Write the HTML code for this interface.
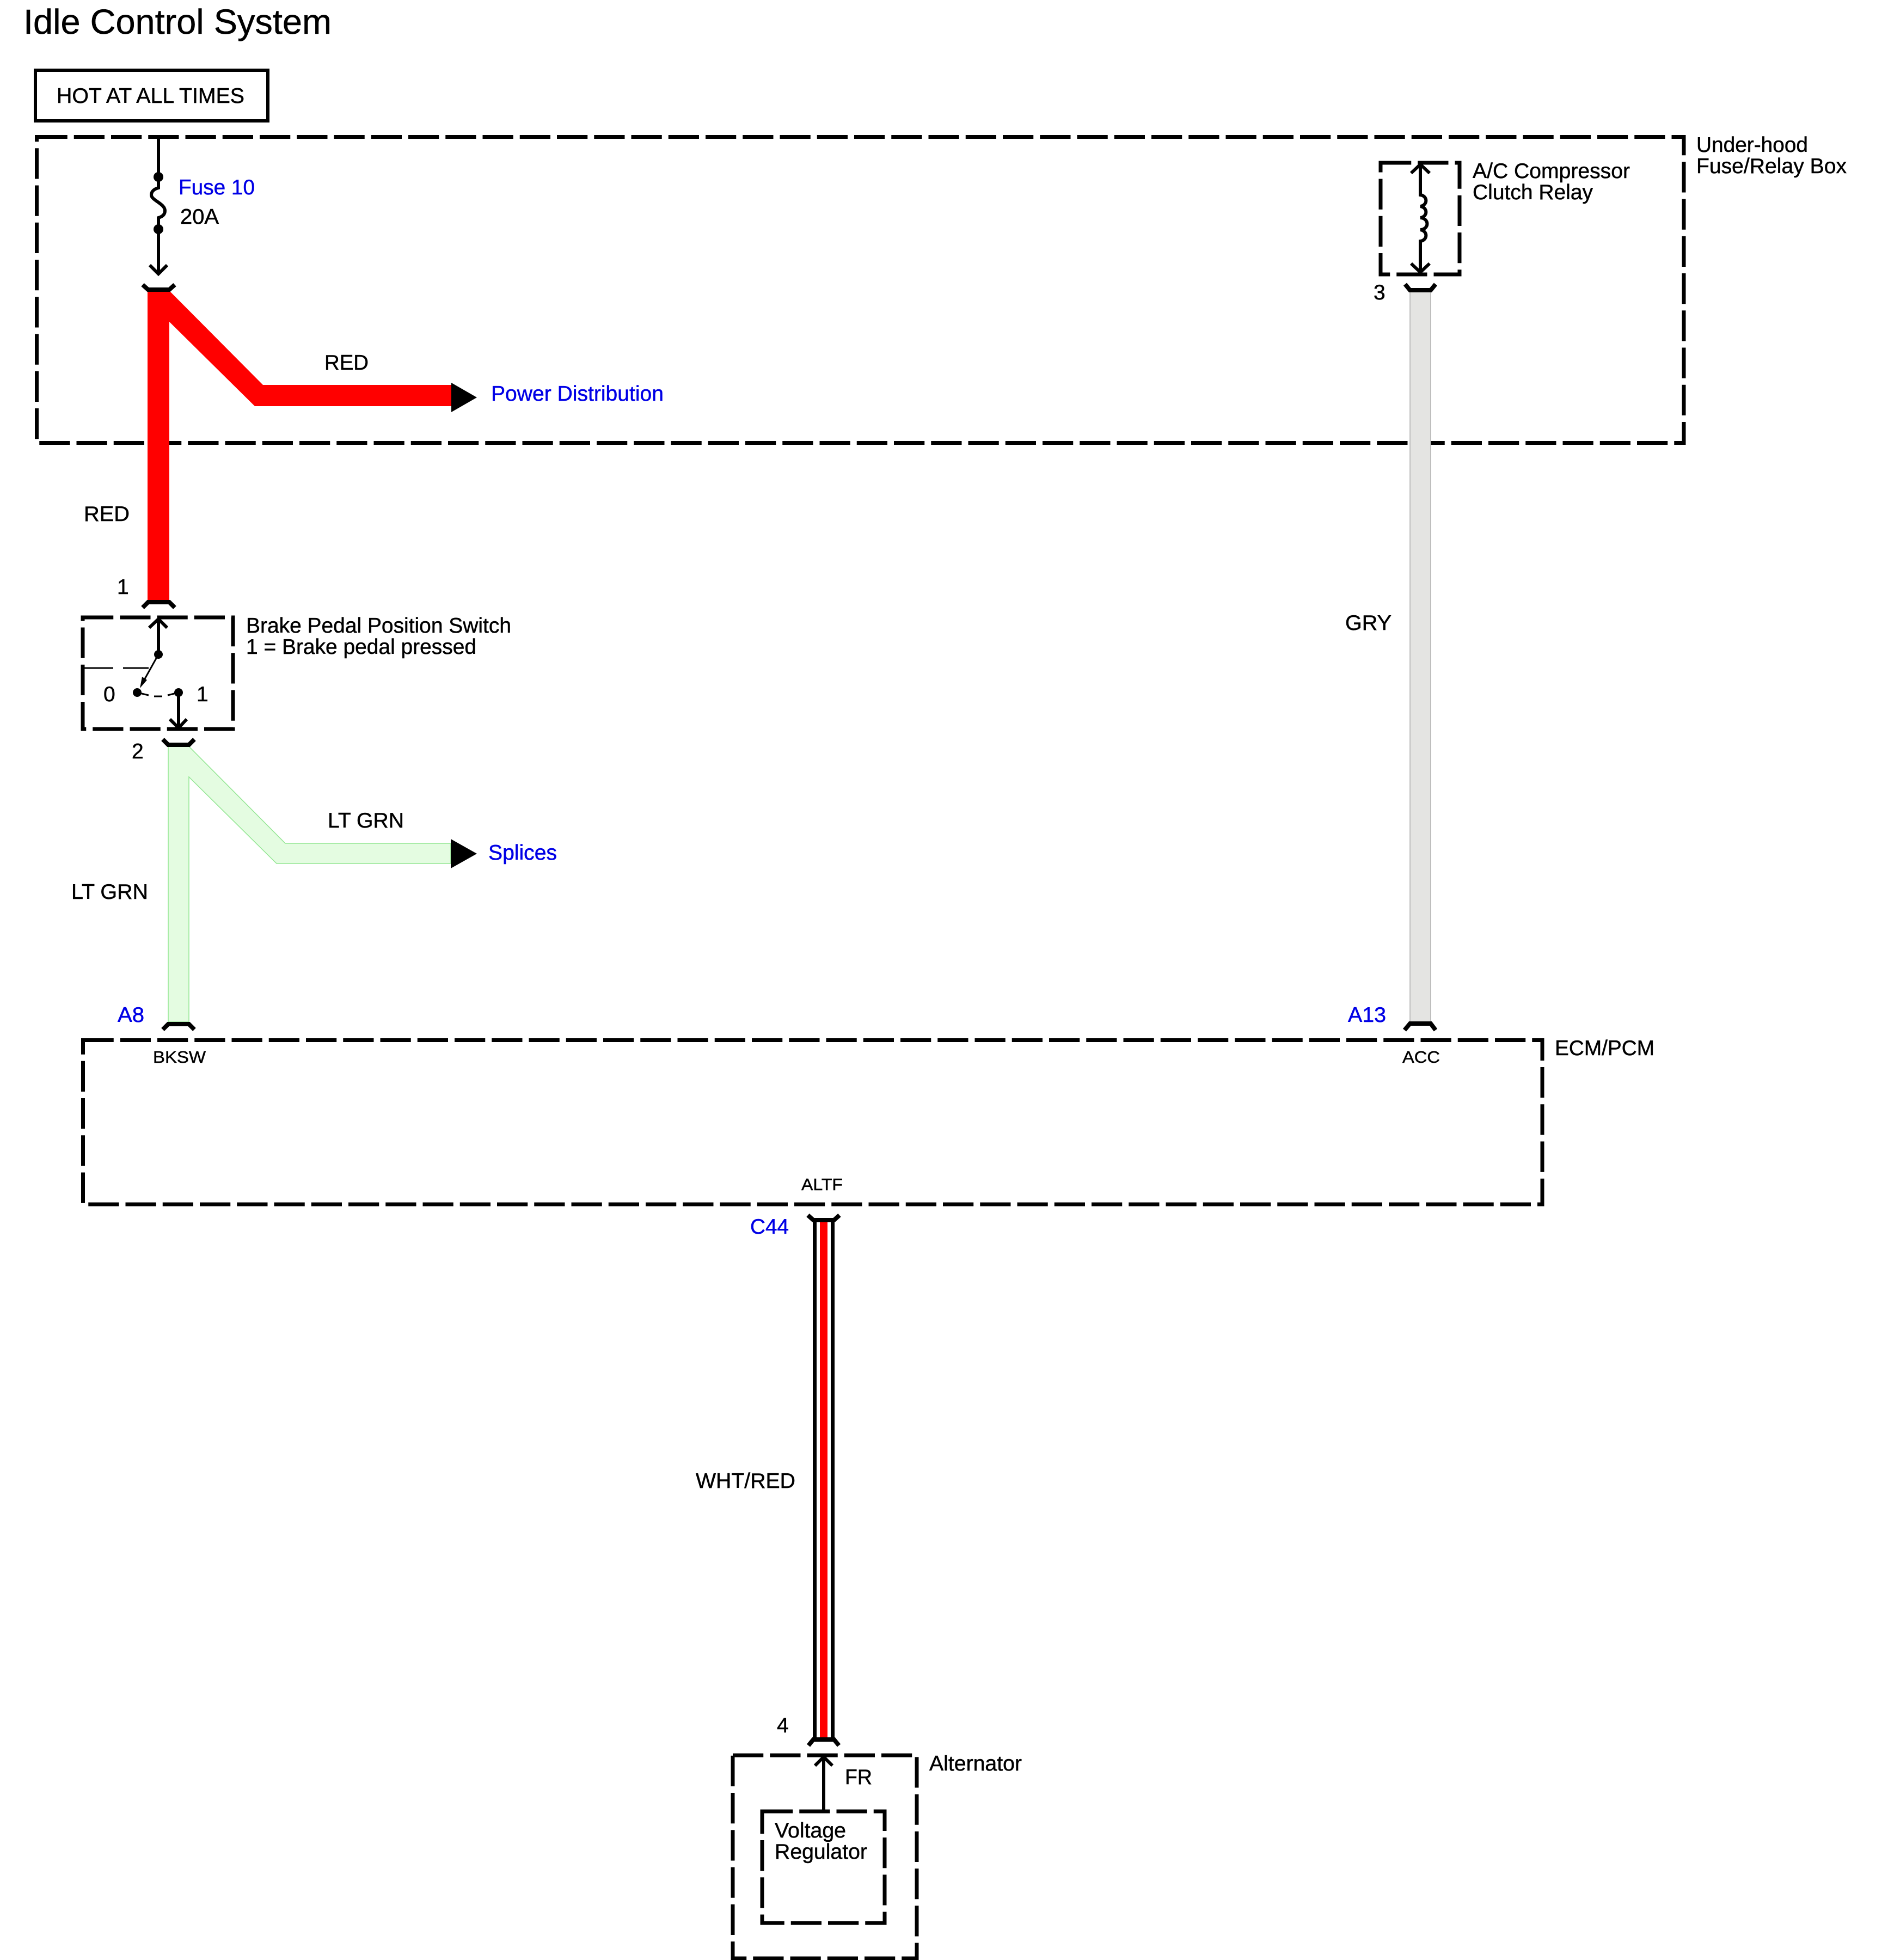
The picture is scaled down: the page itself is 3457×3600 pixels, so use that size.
<!DOCTYPE html>
<html><head><meta charset="utf-8"><title>Idle Control System</title>
<style>
html,body{margin:0;padding:0;background:#fff}
svg{display:block}
text{font-family:"Liberation Sans",Arial,sans-serif;font-size:39px;fill:#000;stroke:#000;stroke-width:.5}
.b{fill:#0000e6;stroke:#0000e6}
.s{font-size:31px}
.box{fill:none;stroke:#000;stroke-width:7;stroke-dasharray:56.25 12}
.l{fill:none;stroke:#000;stroke-width:6}
.c{fill:none;stroke:#000;stroke-width:8}
.t{fill:none;stroke:#000;stroke-width:3}
.g{fill:#e4fce1;stroke:#93e693;stroke-width:1.5}
</style></head>
<body>
<svg xmlns="http://www.w3.org/2000/svg" width="3457" height="3600" viewBox="0 0 3457 3600">
<rect width="3457" height="3600" fill="#fff"/>

<text x="43" y="62" style="font-size:64px" textLength="566" lengthAdjust="spacingAndGlyphs">Idle Control System</text>

<rect x="65" y="129" width="427" height="93" fill="none" stroke="#000" stroke-width="6"/>
<text x="104" y="189" textLength="345" lengthAdjust="spacingAndGlyphs">HOT AT ALL TIMES</text>

<!-- dashed boxes -->
<rect class="box" x="67.5" y="251.5" width="3025.5" height="562"/>
<rect class="box" x="2536" y="299" width="145" height="205"/>
<rect class="box" x="152" y="1134" width="276" height="205"/>
<rect class="box" x="152.5" y="1910.5" width="2680.5" height="301.5"/>
<rect class="box" x="1346" y="3224" width="338" height="373"/>
<rect class="box" x="1400" y="3327" width="225" height="205"/>

<!-- fuse -->
<path class="l" d="M291 252V345C284 347 278 351 278 358C278 368 303 374 303 387C303 394 298 398 291 400V503"/>
<circle cx="291" cy="325" r="9"/><circle cx="291" cy="421" r="9"/>
<path class="l" d="M275 487L291 503L307 487"/>

<!-- red wire -->
<path fill="#ff0000" d="M271 535H312L483 707H829V746H468L311 591V1103H271Z"/>
<path d="M829 703L876 730L829 757Z"/>
<path class="c" d="M262 523L272 532H311L321 523"/>
<path class="c" d="M262 1116L272 1106H311L321 1116"/>

<!-- switch -->
<path class="l" d="M291 1202V1137M274 1153L291 1137L307 1153"/>
<circle cx="291" cy="1202" r="8"/><circle cx="252" cy="1272" r="8"/><circle cx="328" cy="1272" r="8"/>
<path class="t" d="M291 1202L262 1254"/>
<path d="M257 1264L261 1243L270 1249Z"/>
<path class="t" d="M155 1227H208M226 1227H273"/>
<path class="t" d="M252 1272L273 1277M283 1279H298M308 1277L328 1272"/>
<path class="l" d="M328 1272V1337M312 1321L328 1337L343 1321"/>

<!-- green wire -->
<path class="g" d="M309 1371H347L524 1549H828V1586H508L347 1427V1877H309Z"/>
<path d="M828 1541L876 1568L828 1595Z"/>
<path class="c" d="M299 1358L309 1368H347L357 1358"/>
<path class="c" d="M299 1891L309 1881H347L357 1891"/>

<!-- gray wire -->
<rect x="2590" y="536" width="38" height="1341" fill="#e4e4e2" stroke="#b0b0b0" stroke-width="1.5"/>
<path class="c" d="M2581 522L2590 533H2628L2637 522"/>
<path class="c" d="M2580 1892L2590 1880H2628L2637 1892"/>

<!-- relay coil -->
<path class="l" d="M2609 302V358A12 10.6 0 0 1 2609 379A12 10.6 0 0 1 2609 400A12 10.6 0 0 1 2609 422A12 10.6 0 0 1 2609 443V500"/>
<path class="l" d="M2592 318L2609 302L2626 318M2592 484L2609 500L2626 484"/>

<!-- white/red wire -->
<rect x="1493" y="2241" width="7" height="954"/>
<rect x="1526" y="2241" width="7" height="954"/>
<rect x="1506" y="2245" width="14" height="947" fill="#ff0000"/>
<path class="c" d="M1484 2232L1494 2241H1532L1542 2232"/>
<path class="c" d="M1485 3206L1494 3195H1532L1541 3206"/>

<!-- alternator arrow -->
<path class="l" d="M1513 3327V3228M1497 3243L1513 3227L1529 3243"/>

<!-- labels -->
<text class="b" x="328" y="357" textLength="140" lengthAdjust="spacingAndGlyphs">Fuse 10</text>
<text x="331" y="411" textLength="71" lengthAdjust="spacingAndGlyphs">20A</text>
<text x="596" y="679" textLength="81" lengthAdjust="spacingAndGlyphs">RED</text>
<text class="b" x="902" y="736" textLength="317" lengthAdjust="spacingAndGlyphs">Power Distribution</text>
<text x="154" y="957" textLength="84" lengthAdjust="spacingAndGlyphs">RED</text>
<text x="215" y="1091">1</text>
<text x="452" y="1162" textLength="487" lengthAdjust="spacingAndGlyphs">Brake Pedal Position Switch</text>
<text x="452" y="1201" textLength="423" lengthAdjust="spacingAndGlyphs">1 = Brake pedal pressed</text>
<text x="190" y="1288">0</text>
<text x="361" y="1288">1</text>
<text x="242" y="1393">2</text>
<text x="602" y="1520" textLength="140" lengthAdjust="spacingAndGlyphs">LT GRN</text>
<text class="b" x="897" y="1579" textLength="126" lengthAdjust="spacingAndGlyphs">Splices</text>
<text x="131" y="1651" textLength="141" lengthAdjust="spacingAndGlyphs">LT GRN</text>
<text class="b" x="216" y="1877" textLength="49" lengthAdjust="spacingAndGlyphs">A8</text>
<text class="s" x="281" y="1952" textLength="97" lengthAdjust="spacingAndGlyphs">BKSW</text>
<text x="3116" y="279" textLength="205" lengthAdjust="spacingAndGlyphs">Under-hood</text>
<text x="3116" y="318" textLength="276" lengthAdjust="spacingAndGlyphs">Fuse/Relay Box</text>
<text x="2705" y="327" textLength="289" lengthAdjust="spacingAndGlyphs">A/C Compressor</text>
<text x="2705" y="366" textLength="221" lengthAdjust="spacingAndGlyphs">Clutch Relay</text>
<text x="2523" y="550">3</text>
<text x="2471" y="1157" textLength="85" lengthAdjust="spacingAndGlyphs">GRY</text>
<text class="b" x="2476" y="1877" textLength="70" lengthAdjust="spacingAndGlyphs">A13</text>
<text class="s" x="2576" y="1952" textLength="69" lengthAdjust="spacingAndGlyphs">ACC</text>
<text x="2856" y="1938" textLength="183" lengthAdjust="spacingAndGlyphs">ECM/PCM</text>
<text class="s" x="1472" y="2186" textLength="76" lengthAdjust="spacingAndGlyphs">ALTF</text>
<text class="b" x="1378" y="2266" textLength="71" lengthAdjust="spacingAndGlyphs">C44</text>
<text x="1278" y="2733" textLength="183" lengthAdjust="spacingAndGlyphs">WHT/RED</text>
<text x="1427" y="3182">4</text>
<text x="1707" y="3252" textLength="170" lengthAdjust="spacingAndGlyphs">Alternator</text>
<text x="1552" y="3277" textLength="50" lengthAdjust="spacingAndGlyphs">FR</text>
<text x="1423" y="3375" textLength="131" lengthAdjust="spacingAndGlyphs">Voltage</text>
<text x="1423" y="3414" textLength="170" lengthAdjust="spacingAndGlyphs">Regulator</text>
</svg>
</body></html>
